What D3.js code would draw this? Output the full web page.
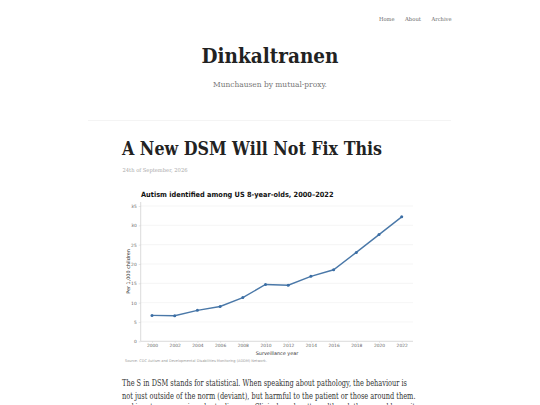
<!DOCTYPE html>
<html><head><meta charset="utf-8">
<script src="https://cdn.jsdelivr.net/npm/d3@7"></script>
<style>html,body{margin:0;padding:0;background:#fff;overflow:hidden}svg{display:block}</style>
</head><body><svg id="c" width="540" height="405"></svg>
<script>
const years=[2000,2002,2004,2006,2008,2010,2012,2014,2016,2018,2020,2022];
const rates=[6.7,6.6,8.0,9.0,11.3,14.7,14.5,16.8,18.5,23.0,27.6,32.2];
const yTicks=[0,5,10,15,20,25,30,35];
const navItems=["Home","About","Archive"];
const bodyLines=["The S in DSM stands for statistical. When speaking about pathology, the behaviour is","not just outside of the norm (deviant), but harmful to the patient or those around them."];
const svg=d3.select("#c");
const serif="'DejaVu Serif',serif", sans="'DejaVu Sans',sans-serif";
const T=(s,x,y,size,fill,fam,o={})=>{const t=svg.append("text").text(s).attr("x",x).attr("y",y).attr("font-size",size).attr("fill",fill).attr("font-family",fam);
 if(o.w)t.attr("font-weight",o.w);if(o.a)t.attr("text-anchor",o.a);if(o.len)t.attr("textLength",o.len).attr("lengthAdjust","spacingAndGlyphs");return t;};
const navX=[379,405,431.5],navL=[15.5,16,20];
navItems.forEach((n,i)=>T(n,navX[i],20.5,5.4,"#666",serif,{len:navL[i]}));
T("Dinkaltranen",201.5,63,19.5,"#222",serif,{w:"bold",len:137});
T("Munchausen by mutual-proxy.",213,87,8,"#777",serif,{len:114});
svg.append("line").attr("x1",88).attr("x2",451).attr("y1",120.5).attr("y2",120.5).attr("stroke","#f4f4f4");
T("A New DSM Will Not Fix This",122,155,18,"#222",serif,{w:"bold",len:260});
T("24th of September, 2026",122.5,172,5.4,"#aaa",serif,{len:65});
T("Autism identified among US 8-year-olds, 2000–2022",141,197,7.2,"#111",sans,{w:"bold",len:192.5});
const x=d3.scalePoint().domain(years).range([152,401.7]);
const y=d3.scaleLinear().domain([0,35]).range([341.3,206]);
const xA=svg.append("g").attr("transform","translate(0,341.3)").call(d3.axisBottom(x).tickSize(1.5).tickPadding(1.5));
const yA=svg.append("g").attr("transform","translate(140.7,0)").call(d3.axisLeft(y).tickValues(yTicks).tickSize(2).tickPadding(2));
[xA,yA].forEach(g=>{g.selectAll("text").attr("font-size",4.4).attr("font-family",sans).attr("fill","#666");g.selectAll("line").attr("stroke","#ccc").attr("stroke-width",.5);g.select(".domain").remove();});
svg.append("g").selectAll("line").data(yTicks.filter(d=>d>0)).join("line").attr("x1",140.7).attr("x2",413).attr("y1",d=>y(d)).attr("y2",d=>y(d)).attr("stroke","#eee").attr("stroke-width",.6);
svg.append("line").attr("x1",140.7).attr("x2",413).attr("y1",341.3).attr("y2",341.3).attr("stroke","#ccc").attr("stroke-width",.7);
svg.append("line").attr("x1",140.7).attr("x2",140.7).attr("y1",202).attr("y2",341.3).attr("stroke","#ccc").attr("stroke-width",.7);
const pts=years.map((d,i)=>[d,rates[i]]);
svg.append("path").attr("d",d3.line().x(d=>x(d[0])).y(d=>y(d[1]))(pts)).attr("fill","none").attr("stroke","#4a78a8").attr("stroke-width",1.4);
svg.append("g").selectAll("circle").data(pts).join("circle").attr("cx",d=>x(d[0])).attr("cy",d=>y(d[1])).attr("r",1.5).attr("fill","#3b6ea5");
T("Surveillance year",277,354.5,4.9,"#333",sans,{a:"middle"});
T("Per 1,000 children",0,0,4.9,"#333",sans,{a:"middle"}).attr("transform","translate(130,271.5) rotate(-90)");
T("Source: CDC Autism and Developmental Disabilities Monitoring (ADDM) Network.",125,362,3.6,"#999",sans,{len:142});
bodyLines.forEach((l,i)=>T(l,122,385.5+i*13,8.6,"#333",serif,{len:i?293.5:285}));
T("and is not necessary in order to diagnose. Clinical need matters although the manual keeps it",122,410,8.6,"#333",serif,{len:293});
</script></body></html>
